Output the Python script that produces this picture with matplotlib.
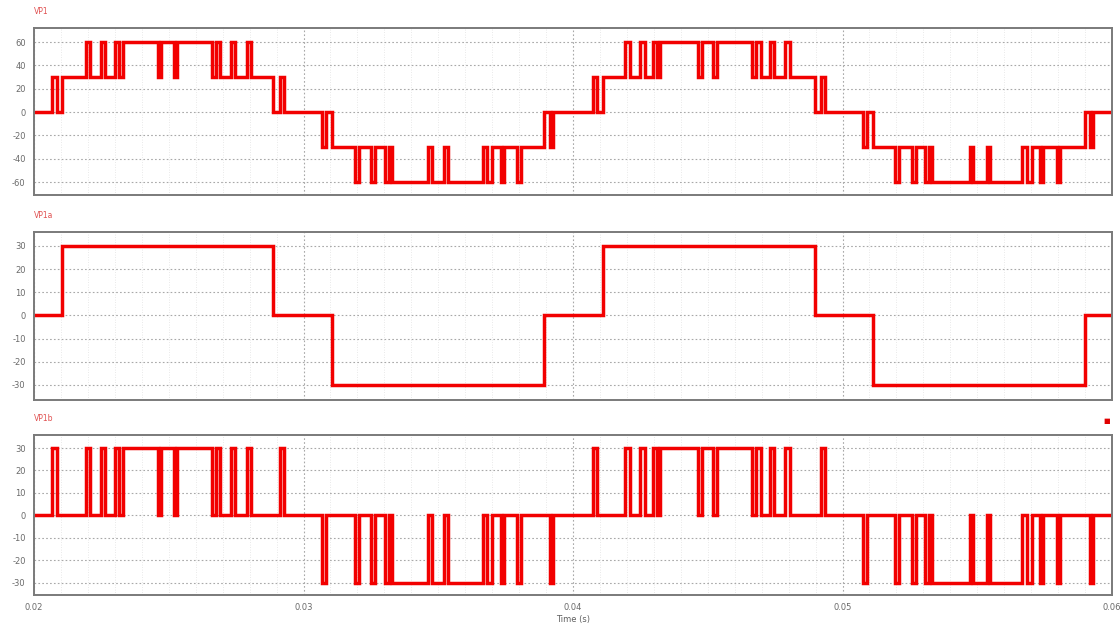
import numpy as np
import matplotlib.pyplot as plt
from matplotlib.ticker import MultipleLocator

# VP1a: quasi-square leg, (start, end) in seconds
vp1a_pos = [(0.02105, 0.02887), (0.04111, 0.04898)]
vp1a_neg = [(0.03106, 0.03892), (0.05113, 0.05900)]
vp1a_level = 30

# VP1b: PWM leg, +30 pulses in the positive half cycles, -30 in the negative ones
vp1b_pos = [
    (0.02067, 0.02085), (0.02193, 0.02208), (0.02249, 0.02264), (0.02301, 0.02316),
    (0.02330, 0.02460), (0.02471, 0.02520), (0.02531, 0.02660), (0.02675, 0.02690),
    (0.02731, 0.02746), (0.02790, 0.02805), (0.02913, 0.02928),
    (0.04074, 0.04089), (0.04193, 0.04211), (0.04249, 0.04267), (0.04297, 0.04312),
    (0.04323, 0.04464), (0.04479, 0.04520), (0.04534, 0.04664), (0.04680, 0.04698),
    (0.04731, 0.04746), (0.04787, 0.04805), (0.04922, 0.04935),
]
vp1b_neg = [
    (0.03069, 0.03084), (0.03191, 0.03206), (0.03251, 0.03265), (0.03302, 0.03317),
    (0.03328, 0.03462), (0.03477, 0.03521), (0.03536, 0.03666), (0.03681, 0.03699),
    (0.03733, 0.03744), (0.03792, 0.03807), (0.03915, 0.03926),
    (0.05076, 0.05091), (0.05195, 0.05210), (0.05258, 0.05273), (0.05306, 0.05320),
    (0.05331, 0.05472), (0.05485, 0.05535), (0.05547, 0.05666), (0.05685, 0.05703),
    (0.05733, 0.05744), (0.05796, 0.05807), (0.05918, 0.05930),
]
vp1b_level = 30

t_start, t_end = 0.02, 0.06
x_ticks = [0.02, 0.03, 0.04, 0.05, 0.06]
x_labels = ["0.02", "0.03", "0.04", "0.05", "0.06"]


def level_at(t, pos, neg, lvl):
    v = np.zeros_like(t)
    for a, b in pos:
        v[(t >= a) & (t < b)] += lvl
    for a, b in neg:
        v[(t >= a) & (t < b)] -= lvl
    return v


edges = [t_start, t_end]
for group in (vp1a_pos, vp1a_neg, vp1b_pos, vp1b_neg):
    for a, b in group:
        edges += [a, b]
t = np.unique(edges)

va = level_at(t, vp1a_pos, vp1a_neg, vp1a_level)
vb = level_at(t, vp1b_pos, vp1b_neg, vp1b_level)
v1 = va + vb  # output voltage = sum of both legs

red = "#f20000"
fig = plt.figure(figsize=(11.2, 6.3), dpi=100)
W = 1120.0
H = 630.0

panels = [
    ("VP1", v1, (28, 195), (-71, 72), [-60, -40, -20, 0, 20, 40, 60]),
    ("VP1a", va, (232, 400), (-36.5, 36), [-30, -20, -10, 0, 10, 20, 30]),
    ("VP1b", vb, (435, 595), (-35.5, 35.8), [-30, -20, -10, 0, 10, 20, 30]),
]

axes = []
for name, sig, (ytop, ybot), ylim, yt in panels:
    ax = fig.add_axes([34 / W, 1 - ybot / H, 1078 / W, (ybot - ytop) / H])
    ax.plot(t, sig, drawstyle="steps-post", color=red, lw=2.5, solid_joinstyle="miter")
    ax.set_xlim(t_start, t_end)
    ax.set_ylim(*ylim)
    ax.set_yticks(yt)
    ax.set_yticklabels([str(v) for v in yt])
    ax.set_xticks(x_ticks)
    ax.xaxis.set_minor_locator(MultipleLocator(0.001))
    ax.grid(True, which="major", color="#a8a8a8", linestyle=(0, (1.5, 2)), lw=0.8)
    ax.grid(True, which="minor", axis="x", color="#e2e2e2", linestyle=(0, (1, 2)), lw=0.6)
    ax.tick_params(length=0, which="both", labelsize=6, labelcolor="#6a6a6a", pad=6)
    for s in ax.spines.values():
        s.set_color("#7a7a7a")
        s.set_linewidth(1.4)
    ax.text(0.0, 1.0 + 12 / (ybot - ytop), name, transform=ax.transAxes,
            color="#e05050", fontsize=5.5, ha="left", va="bottom")
    axes.append(ax)

for ax in axes[:-1]:
    ax.set_xticklabels([])
axes[-1].set_xticklabels(x_labels)
axes[-1].set_xlabel("Time (s)", fontsize=6, color="#606060", labelpad=2)
axes[-1].text(0.9985, 1.07, "■", transform=axes[-1].transAxes, color="#e00000",
              fontsize=5, ha="right", va="bottom")

fig.savefig("out.png", dpi=100)
plt.close(fig)
